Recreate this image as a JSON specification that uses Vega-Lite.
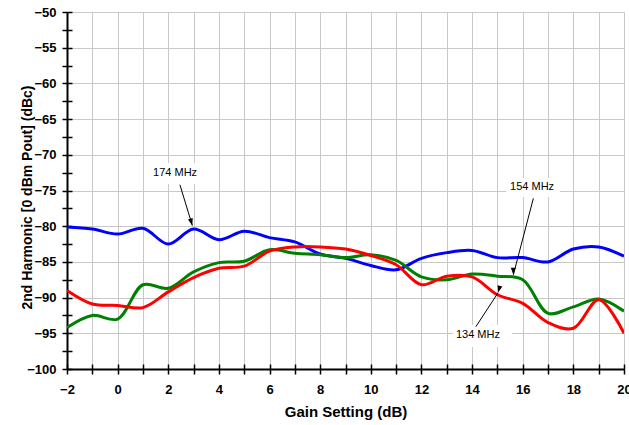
{
  "$schema": "https://vega.github.io/schema/vega-lite/v6.json",
  "width": 557,
  "height": 357,
  "autosize": {"type": "none"},
  "padding": {"left": 67, "top": 12, "right": 5, "bottom": 56},
  "background": "white",
  "config": {
    "view": {"stroke": null},
    "font": "Liberation Sans",
    "axis": {"labelFont": "Liberation Sans", "titleFont": "Liberation Sans"}
  },
  "datasets": {
    "curves": [
      {"gain": -2, "dBc": -80.1, "series": "174 MHz"},
      {"gain": -1, "dBc": -80.4, "series": "174 MHz"},
      {"gain": 0, "dBc": -81.1, "series": "174 MHz"},
      {"gain": 1, "dBc": -80.3, "series": "174 MHz"},
      {"gain": 2, "dBc": -82.5, "series": "174 MHz"},
      {"gain": 3, "dBc": -80.4, "series": "174 MHz"},
      {"gain": 4, "dBc": -81.9, "series": "174 MHz"},
      {"gain": 5, "dBc": -80.7, "series": "174 MHz"},
      {"gain": 6, "dBc": -81.6, "series": "174 MHz"},
      {"gain": 7, "dBc": -82.2, "series": "174 MHz"},
      {"gain": 8, "dBc": -83.9, "series": "174 MHz"},
      {"gain": 9, "dBc": -84.5, "series": "174 MHz"},
      {"gain": 10, "dBc": -85.5, "series": "174 MHz"},
      {"gain": 11, "dBc": -86.1, "series": "174 MHz"},
      {"gain": 12, "dBc": -84.5, "series": "174 MHz"},
      {"gain": 13, "dBc": -83.7, "series": "174 MHz"},
      {"gain": 14, "dBc": -83.4, "series": "174 MHz"},
      {"gain": 15, "dBc": -84.4, "series": "174 MHz"},
      {"gain": 16, "dBc": -84.4, "series": "174 MHz"},
      {"gain": 17, "dBc": -85.0, "series": "174 MHz"},
      {"gain": 18, "dBc": -83.2, "series": "174 MHz"},
      {"gain": 19, "dBc": -82.9, "series": "174 MHz"},
      {"gain": 20, "dBc": -84.2, "series": "174 MHz"},
      {"gain": -2, "dBc": -94.2, "series": "154 MHz"},
      {"gain": -1, "dBc": -92.5, "series": "154 MHz"},
      {"gain": 0, "dBc": -93.0, "series": "154 MHz"},
      {"gain": 1, "dBc": -88.2, "series": "154 MHz"},
      {"gain": 2, "dBc": -88.7, "series": "154 MHz"},
      {"gain": 3, "dBc": -86.4, "series": "154 MHz"},
      {"gain": 4, "dBc": -85.1, "series": "154 MHz"},
      {"gain": 5, "dBc": -84.9, "series": "154 MHz"},
      {"gain": 6, "dBc": -83.3, "series": "154 MHz"},
      {"gain": 7, "dBc": -83.8, "series": "154 MHz"},
      {"gain": 8, "dBc": -84.0, "series": "154 MHz"},
      {"gain": 9, "dBc": -84.4, "series": "154 MHz"},
      {"gain": 10, "dBc": -84.0, "series": "154 MHz"},
      {"gain": 11, "dBc": -84.8, "series": "154 MHz"},
      {"gain": 12, "dBc": -87.1, "series": "154 MHz"},
      {"gain": 13, "dBc": -87.5, "series": "154 MHz"},
      {"gain": 14, "dBc": -86.7, "series": "154 MHz"},
      {"gain": 15, "dBc": -87.0, "series": "154 MHz"},
      {"gain": 16, "dBc": -87.5, "series": "154 MHz"},
      {"gain": 17, "dBc": -92.2, "series": "154 MHz"},
      {"gain": 18, "dBc": -91.3, "series": "154 MHz"},
      {"gain": 19, "dBc": -90.2, "series": "154 MHz"},
      {"gain": 20, "dBc": -91.9, "series": "154 MHz"},
      {"gain": -2, "dBc": -89.0, "series": "134 MHz"},
      {"gain": -1, "dBc": -90.9, "series": "134 MHz"},
      {"gain": 0, "dBc": -91.1, "series": "134 MHz"},
      {"gain": 1, "dBc": -91.4, "series": "134 MHz"},
      {"gain": 2, "dBc": -89.2, "series": "134 MHz"},
      {"gain": 3, "dBc": -87.2, "series": "134 MHz"},
      {"gain": 4, "dBc": -85.9, "series": "134 MHz"},
      {"gain": 5, "dBc": -85.6, "series": "134 MHz"},
      {"gain": 6, "dBc": -83.5, "series": "134 MHz"},
      {"gain": 7, "dBc": -82.9, "series": "134 MHz"},
      {"gain": 8, "dBc": -82.9, "series": "134 MHz"},
      {"gain": 9, "dBc": -83.2, "series": "134 MHz"},
      {"gain": 10, "dBc": -84.1, "series": "134 MHz"},
      {"gain": 11, "dBc": -85.4, "series": "134 MHz"},
      {"gain": 12, "dBc": -88.2, "series": "134 MHz"},
      {"gain": 13, "dBc": -87.0, "series": "134 MHz"},
      {"gain": 14, "dBc": -87.1, "series": "134 MHz"},
      {"gain": 15, "dBc": -89.6, "series": "134 MHz"},
      {"gain": 16, "dBc": -90.8, "series": "134 MHz"},
      {"gain": 17, "dBc": -93.5, "series": "134 MHz"},
      {"gain": 18, "dBc": -94.3, "series": "134 MHz"},
      {"gain": 19, "dBc": -90.3, "series": "134 MHz"},
      {"gain": 20, "dBc": -95.0, "series": "134 MHz"}
    ],
    "notes": [
      {"label": "174 MHz", "bx1": 1.2, "bx2": 3.37, "by1": -71.15, "by2": -74.09, "lx": 2.27, "ly": -72.55, "ax": 2.46, "ay": -74.2, "tx": 2.95, "ty": -79.9},
      {"label": "154 MHz", "bx1": 15.34, "bx2": 17.47, "by1": -73.25, "by2": -75.9, "lx": 16.37, "ly": -74.5, "ax": 16.42, "ay": -76.1, "tx": 15.63, "ty": -86.8},
      {"label": "134 MHz", "bx1": 13.24, "bx2": 15.57, "by1": -93.84, "by2": -96.92, "lx": 14.23, "ly": -95.24, "ax": 14.15, "ay": -94.07, "tx": 15.03, "ty": -89.3}
    ]
  },
  "layer": [
    {
      "data": {"name": "curves"},
      "mark": {"type": "line", "interpolate": "catmull-rom", "strokeWidth": 3, "clip": true},
      "encoding": {
        "x": {
          "field": "gain", "type": "quantitative",
          "scale": {"domain": [-2, 20], "nice": false, "zero": false},
          "axis": {
            "orient": "bottom",
            "title": "Gain Setting (dB)",
            "values": [-2, -1, 0, 1, 2, 3, 4, 5, 6, 7, 8, 9, 10, 11, 12, 13, 14, 15, 16, 17, 18, 19, 20],
            "labelExpr": "datum.value % 2 === 0 ? datum.label : ''",
            "labelOverlap": false,
            "labelFlush": false,
            "labelFontSize": 13,
            "labelFontWeight": "bold",
            "labelColor": "black",
            "labelPadding": 9,
            "tickSize": 5,
            "tickColor": "black",
            "tickWidth": 1.5,
            "domainColor": "black",
            "domainWidth": 2,
            "grid": true,
            "gridColor": "#c8c8c8",
            "gridWidth": 1,
            "titleFontSize": 15,
            "titleFontWeight": "bold",
            "titleColor": "black",
            "titlePadding": 8
          }
        },
        "y": {
          "field": "dBc", "type": "quantitative",
          "scale": {"domain": [-100, -50], "nice": false, "zero": false},
          "axis": {
            "orient": "left",
            "title": "2nd Harmonic [0 dBm Pout] (dBc)",
            "values": [-100, -97.5, -95, -92.5, -90, -87.5, -85, -82.5, -80, -77.5, -75, -72.5, -70, -67.5, -65, -62.5, -60, -57.5, -55, -52.5, -50],
            "labelExpr": "datum.value % 5 === 0 ? datum.label : ''",
            "labelOverlap": false,
            "labelFontSize": 13,
            "labelFontWeight": "bold",
            "labelColor": "black",
            "labelPadding": 6,
            "tickSize": 5,
            "tickColor": "black",
            "tickWidth": 1.5,
            "domainColor": "black",
            "domainWidth": 2,
            "grid": false,
            "titleFontSize": 14,
            "titleFontWeight": "bold",
            "titleColor": "black",
            "titleX": -40,
            "titleY": 185,
            "titleAngle": -90,
            "titleAlign": "center",
            "titleBaseline": "middle"
          }
        },
        "color": {
          "field": "series", "type": "nominal",
          "scale": {"domain": ["174 MHz", "154 MHz", "134 MHz"], "range": ["#0000ff", "#008000", "#ff0000"]},
          "legend": null
        },
        "order": {"field": "gain", "type": "quantitative"}
      }
    },
    {
      "data": {"name": "notes"},
      "mark": {"type": "rect", "fill": "white"},
      "encoding": {
        "x": {"field": "bx1", "type": "quantitative", "scale": {"domain": [-2, 20], "nice": false, "zero": false},
          "axis": {"orient": "bottom", "title": null, "values": [-2, -1, 0, 1, 2, 3, 4, 5, 6, 7, 8, 9, 10, 11, 12, 13, 14, 15, 16, 17, 18, 19, 20], "labels": false, "grid": false, "domain": false, "tickSize": -5, "tickColor": "black", "tickWidth": 1.5}},
        "x2": {"field": "bx2"},
        "y": {"field": "by1", "type": "quantitative", "scale": {"domain": [-100, -50], "nice": false, "zero": false},
          "axis": {"orient": "left", "title": null, "values": [-100, -97.5, -95, -92.5, -90, -87.5, -85, -82.5, -80, -77.5, -75, -72.5, -70, -67.5, -65, -62.5, -60, -57.5, -55, -52.5, -50], "labels": false, "grid": false, "domain": false, "tickSize": -5, "tickColor": "black", "tickWidth": 1.5}},
        "y2": {"field": "by2"}
      }
    },
    {
      "data": {"name": "notes"},
      "mark": {"type": "text", "fontSize": 11, "font": "Liberation Sans", "color": "black", "align": "center", "baseline": "middle"},
      "encoding": {
        "x": {"field": "lx", "type": "quantitative", "scale": {"domain": [-2, 20], "nice": false, "zero": false}, "axis": null},
        "y": {"field": "ly", "type": "quantitative", "scale": {"domain": [-100, -50], "nice": false, "zero": false},
          "axis": {"orient": "left", "title": null, "values": [-100, -95, -90, -85, -80, -75, -70, -65, -60, -55, -50], "labels": false, "ticks": false, "domain": false, "grid": true, "gridColor": "#c8c8c8", "gridWidth": 1}},
        "text": {"field": "label"}
      }
    },
    {
      "data": {"name": "notes"},
      "mark": {"type": "rule", "color": "black", "strokeWidth": 1},
      "encoding": {
        "x": {"field": "ax", "type": "quantitative", "scale": {"domain": [-2, 20], "nice": false, "zero": false}, "axis": null},
        "y": {"field": "ay", "type": "quantitative", "scale": {"domain": [-100, -50], "nice": false, "zero": false}, "axis": null},
        "x2": {"field": "tx"},
        "y2": {"field": "ty"}
      }
    },
    {
      "data": {"name": "notes"},
      "mark": {"type": "point", "shape": "M0,0L-0.35,1L0.35,1Z", "filled": true, "color": "black", "size": 200, "opacity": 1},
      "encoding": {
        "x": {"field": "tx", "type": "quantitative", "scale": {"domain": [-2, 20], "nice": false, "zero": false}, "axis": null},
        "y": {"field": "ty", "type": "quantitative", "scale": {"domain": [-100, -50], "nice": false, "zero": false}, "axis": null},
        "angle": {"field": "label", "type": "nominal", "scale": {"domain": ["174 MHz", "154 MHz", "134 MHz"], "range": [163.7, 194.6, 32.9]}, "legend": null}
      }
    }
  ],
  "resolve": {"axis": {"x": "independent", "y": "independent"}, "scale": {"angle": "independent"}}
}
